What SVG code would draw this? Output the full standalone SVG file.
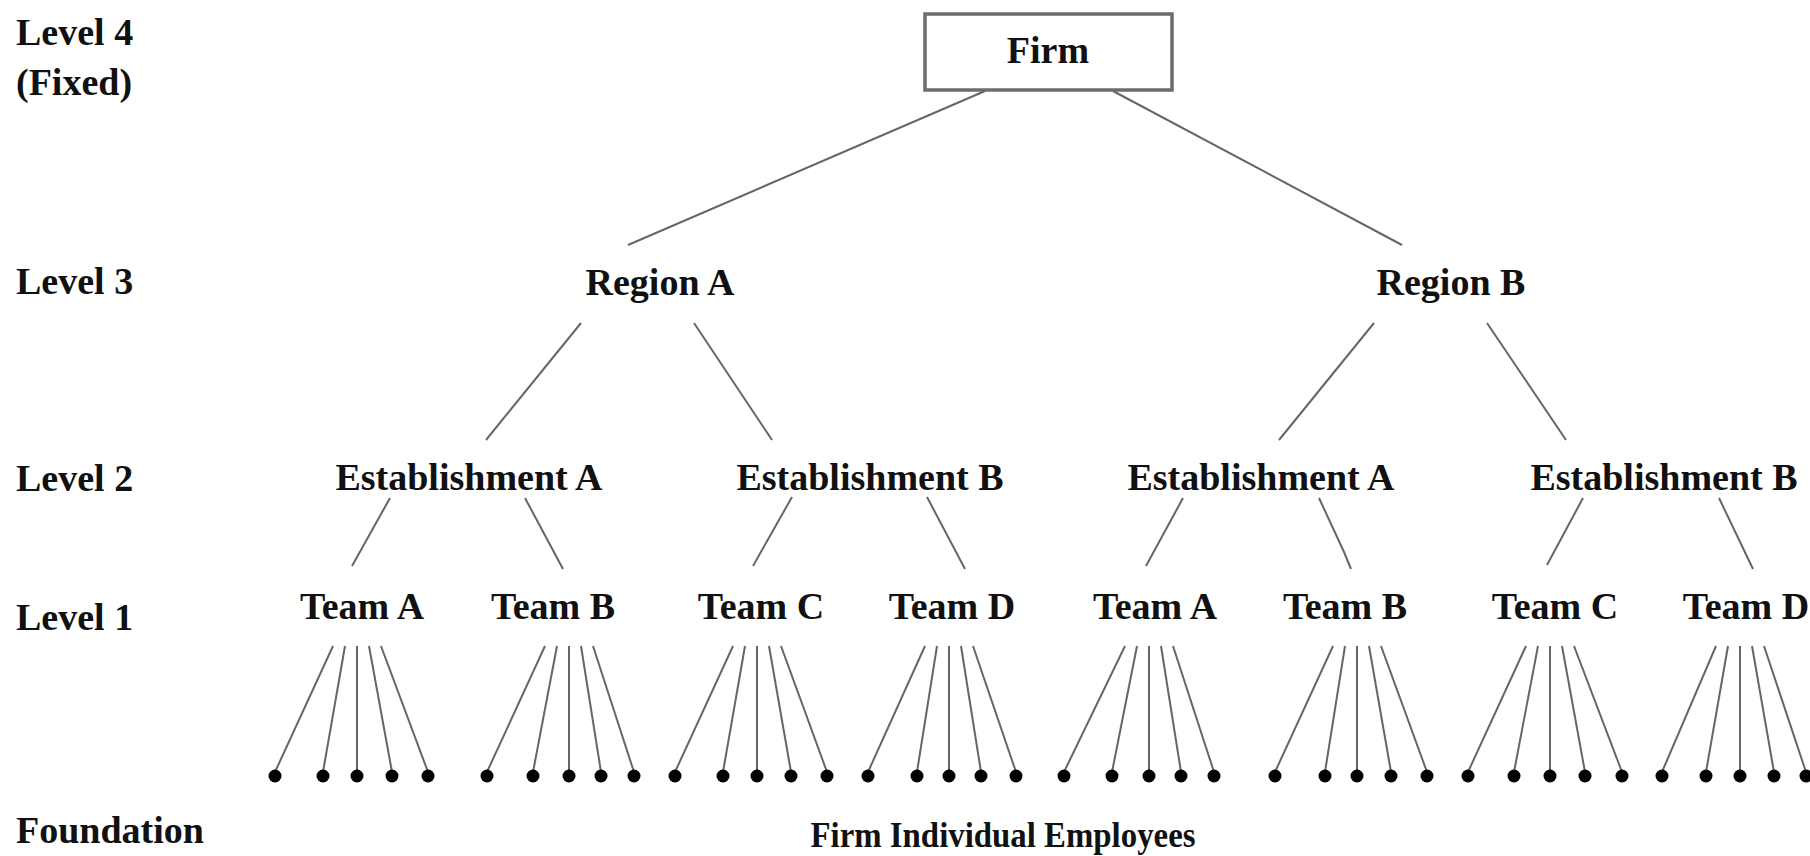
<svg xmlns="http://www.w3.org/2000/svg" width="1810" height="856" viewBox="0 0 1810 856">
  <style>
    .lbl { font-family: "Liberation Serif", "Times New Roman", serif; font-weight: bold; font-size: 38px; fill: #111; }
    .node { font-family: "Liberation Serif", "Times New Roman", serif; font-weight: bold; font-size: 38px; fill: #111; text-anchor: middle; }
    .foot { font-size: 36px; }
    .edge { stroke: #666; stroke-width: 2; fill: none; }
    .dot { fill: #000; }
    .box { fill: #fff; stroke: #6c6c6c; stroke-width: 3.5; }
  </style>
  <rect width="1810" height="856" fill="#fff"/>

  <!-- level labels -->
  <g id="level-labels">
    <text class="lbl" x="16" y="45">Level 4</text>
    <text class="lbl" x="16" y="95">(Fixed)</text>
    <text class="lbl" x="16" y="294">Level 3</text>
    <text class="lbl" x="16" y="491">Level 2</text>
    <text class="lbl" x="16" y="630">Level 1</text>
    <text class="lbl" x="16" y="843">Foundation</text>
  </g>

  <!-- connectors -->
  <g id="connectors">
    <line class="edge" x1="985" y1="91" x2="628" y2="245"/>
    <line class="edge" x1="1113" y1="91" x2="1402" y2="245"/>
    <line class="edge" x1="581" y1="323" x2="486" y2="440"/>
    <line class="edge" x1="694" y1="323" x2="772" y2="440"/>
    <line class="edge" x1="1374" y1="323" x2="1279" y2="440"/>
    <line class="edge" x1="1487" y1="323" x2="1566" y2="440"/>
    <line class="edge" x1="390" y1="498" x2="352" y2="566"/>
    <line class="edge" x1="525" y1="498" x2="563" y2="569"/>
    <line class="edge" x1="792" y1="497" x2="753" y2="566"/>
    <line class="edge" x1="927" y1="497" x2="965" y2="569"/>
    <line class="edge" x1="1183" y1="498" x2="1146" y2="566"/>
    <polyline class="edge" points="1319,498 1344,552 1351,569"/>
    <line class="edge" x1="1583" y1="498" x2="1547" y2="565"/>
    <line class="edge" x1="1719" y1="498" x2="1753" y2="569"/>
    <!-- team fans -->
    <g id="fan-a1">
      <line class="edge" x1="333" y1="646" x2="275" y2="772"/>
      <line class="edge" x1="345" y1="646" x2="323" y2="772"/>
      <line class="edge" x1="357" y1="646" x2="357" y2="772"/>
      <line class="edge" x1="369" y1="646" x2="392" y2="772"/>
      <line class="edge" x1="381" y1="646" x2="428" y2="772"/>
    </g>
    <g id="fan-b1">
      <line class="edge" x1="545" y1="646" x2="487" y2="772"/>
      <line class="edge" x1="557" y1="646" x2="533" y2="772"/>
      <line class="edge" x1="569" y1="646" x2="569" y2="772"/>
      <line class="edge" x1="581" y1="646" x2="601" y2="772"/>
      <line class="edge" x1="593" y1="646" x2="634" y2="772"/>
    </g>
    <g id="fan-c1">
      <line class="edge" x1="733" y1="646" x2="675" y2="772"/>
      <line class="edge" x1="745" y1="646" x2="723" y2="772"/>
      <line class="edge" x1="757" y1="646" x2="757" y2="772"/>
      <line class="edge" x1="769" y1="646" x2="791" y2="772"/>
      <line class="edge" x1="781" y1="646" x2="827" y2="772"/>
    </g>
    <g id="fan-d1">
      <line class="edge" x1="925" y1="646" x2="868" y2="772"/>
      <line class="edge" x1="937" y1="646" x2="917" y2="772"/>
      <line class="edge" x1="949" y1="646" x2="949" y2="772"/>
      <line class="edge" x1="961" y1="646" x2="981" y2="772"/>
      <line class="edge" x1="973" y1="646" x2="1016" y2="772"/>
    </g>
    <g id="fan-a2">
      <line class="edge" x1="1125" y1="646" x2="1064" y2="772"/>
      <line class="edge" x1="1137" y1="646" x2="1112" y2="772"/>
      <line class="edge" x1="1149" y1="646" x2="1149" y2="772"/>
      <line class="edge" x1="1161" y1="646" x2="1181" y2="772"/>
      <line class="edge" x1="1173" y1="646" x2="1214" y2="772"/>
    </g>
    <g id="fan-b2">
      <line class="edge" x1="1333" y1="646" x2="1275" y2="772"/>
      <line class="edge" x1="1345" y1="646" x2="1325" y2="772"/>
      <line class="edge" x1="1357" y1="646" x2="1357" y2="772"/>
      <line class="edge" x1="1369" y1="646" x2="1391" y2="772"/>
      <line class="edge" x1="1381" y1="646" x2="1427" y2="772"/>
    </g>
    <g id="fan-c2">
      <line class="edge" x1="1526" y1="646" x2="1468" y2="772"/>
      <line class="edge" x1="1538" y1="646" x2="1514" y2="772"/>
      <line class="edge" x1="1550" y1="646" x2="1550" y2="772"/>
      <line class="edge" x1="1562" y1="646" x2="1585" y2="772"/>
      <line class="edge" x1="1574" y1="646" x2="1622" y2="772"/>
    </g>
    <g id="fan-d2">
      <line class="edge" x1="1716" y1="646" x2="1662" y2="772"/>
      <line class="edge" x1="1728" y1="646" x2="1706" y2="772"/>
      <line class="edge" x1="1740" y1="646" x2="1740" y2="772"/>
      <line class="edge" x1="1752" y1="646" x2="1774" y2="772"/>
      <line class="edge" x1="1764" y1="646" x2="1806" y2="772"/>
    </g>
  </g>

  <!-- level 4 -->
  <g id="firm">
    <rect class="box" x="925" y="14" width="247" height="76"/>
    <text class="node" x="1048" y="63">Firm</text>
  </g>

  <!-- level 3 -->
  <g id="region-a"><text class="node" x="660" y="295">Region A</text></g>
  <g id="region-b"><text class="node" x="1451" y="295">Region B</text></g>

  <!-- level 2 -->
  <g id="est-a1"><text class="node" x="469" y="490">Establishment A</text></g>
  <g id="est-b1"><text class="node" x="870" y="490">Establishment B</text></g>
  <g id="est-a2"><text class="node" x="1261" y="490">Establishment A</text></g>
  <g id="est-b2"><text class="node" x="1664" y="490">Establishment B</text></g>

  <!-- level 1 -->
  <g id="team-a1"><text class="node" x="362" y="619">Team A</text></g>
  <g id="team-b1"><text class="node" x="553" y="619">Team B</text></g>
  <g id="team-c1"><text class="node" x="761" y="619">Team C</text></g>
  <g id="team-d1"><text class="node" x="952" y="619">Team D</text></g>
  <g id="team-a2"><text class="node" x="1155" y="619">Team A</text></g>
  <g id="team-b2"><text class="node" x="1345" y="619">Team B</text></g>
  <g id="team-c2"><text class="node" x="1555" y="619">Team C</text></g>
  <g id="team-d2"><text class="node" x="1746" y="619">Team D</text></g>

  <!-- foundation: individual employees -->
  <g id="employees">
    <circle class="dot" cx="275" cy="776" r="6.5"/><circle class="dot" cx="323" cy="776" r="6.5"/><circle class="dot" cx="357" cy="776" r="6.5"/><circle class="dot" cx="392" cy="776" r="6.5"/><circle class="dot" cx="428" cy="776" r="6.5"/>
    <circle class="dot" cx="487" cy="776" r="6.5"/><circle class="dot" cx="533" cy="776" r="6.5"/><circle class="dot" cx="569" cy="776" r="6.5"/><circle class="dot" cx="601" cy="776" r="6.5"/><circle class="dot" cx="634" cy="776" r="6.5"/>
    <circle class="dot" cx="675" cy="776" r="6.5"/><circle class="dot" cx="723" cy="776" r="6.5"/><circle class="dot" cx="757" cy="776" r="6.5"/><circle class="dot" cx="791" cy="776" r="6.5"/><circle class="dot" cx="827" cy="776" r="6.5"/>
    <circle class="dot" cx="868" cy="776" r="6.5"/><circle class="dot" cx="917" cy="776" r="6.5"/><circle class="dot" cx="949" cy="776" r="6.5"/><circle class="dot" cx="981" cy="776" r="6.5"/><circle class="dot" cx="1016" cy="776" r="6.5"/>
    <circle class="dot" cx="1064" cy="776" r="6.5"/><circle class="dot" cx="1112" cy="776" r="6.5"/><circle class="dot" cx="1149" cy="776" r="6.5"/><circle class="dot" cx="1181" cy="776" r="6.5"/><circle class="dot" cx="1214" cy="776" r="6.5"/>
    <circle class="dot" cx="1275" cy="776" r="6.5"/><circle class="dot" cx="1325" cy="776" r="6.5"/><circle class="dot" cx="1357" cy="776" r="6.5"/><circle class="dot" cx="1391" cy="776" r="6.5"/><circle class="dot" cx="1427" cy="776" r="6.5"/>
    <circle class="dot" cx="1468" cy="776" r="6.5"/><circle class="dot" cx="1514" cy="776" r="6.5"/><circle class="dot" cx="1550" cy="776" r="6.5"/><circle class="dot" cx="1585" cy="776" r="6.5"/><circle class="dot" cx="1622" cy="776" r="6.5"/>
    <circle class="dot" cx="1662" cy="776" r="6.5"/><circle class="dot" cx="1706" cy="776" r="6.5"/><circle class="dot" cx="1740" cy="776" r="6.5"/><circle class="dot" cx="1774" cy="776" r="6.5"/><circle class="dot" cx="1806" cy="776" r="6.5"/>
    <text class="node foot" x="1003" y="847" textLength="385" lengthAdjust="spacingAndGlyphs">Firm Individual Employees</text>
  </g>
</svg>
